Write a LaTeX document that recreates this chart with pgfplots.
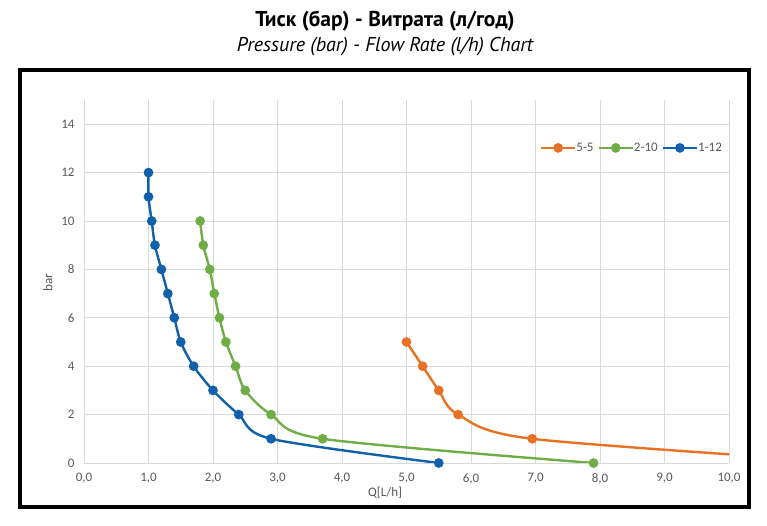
\documentclass[border=0pt]{standalone}
\usepackage{fontspec}
\setmainfont{Carlito}
\newfontfamily\titlefont{PT Sans}
\usepackage{pgfplots}
\pgfplotsset{compat=1.18}
\definecolor{corange}{RGB}{232,114,35}
\definecolor{cgreen}{RGB}{112,173,71}
\definecolor{cblue}{RGB}{16,96,170}
\definecolor{cgrid}{RGB}{217,217,217}
\definecolor{ctext}{RGB}{89,89,89}
\begin{document}
\begin{tikzpicture}
\path[use as bounding box] (-84pt,-63pt) rectangle (683pt,463pt);
\fill[white] (-84pt,-63pt) rectangle (683pt,463pt);
\begin{axis}[
  at={(0pt,0pt)}, anchor=south west,
  scale only axis, width=645pt, height=363pt,
  xmin=0, xmax=10, ymin=0, ymax=15,
  xtick={0,1,...,10}, ytick={0,2,...,14},
  axis x line=bottom, axis y line=left,
  axis line style={cgrid, line width=0.8pt, -},
  major tick length=0pt,
  grid=major, grid style={cgrid, line width=0.8pt},
  /pgf/number format/assume math mode=true,
  xticklabel style={/pgf/number format/fixed, /pgf/number format/fixed zerofill, /pgf/number format/precision=1, /pgf/number format/use comma, yshift=-7pt},
  tick label style={font=\fontsize{13}{15}\selectfont, text=ctext},
  yticklabel style={xshift=-6pt},
  xlabel={Q[L/h]}, ylabel={bar},
  label style={font=\fontsize{13}{15}\selectfont, text=ctext},
  xlabel style={at={(axis description cs:0.467,-0.083)}, anchor=center},
  ylabel style={at={(axis description cs:-0.056,0.496)}, anchor=center},
  every axis plot/.append style={line width=2.4pt, smooth, tension=0.5, mark=*, mark size=3.6pt},
  legend columns=3,
  legend style={at={(0.997,0.868)}, anchor=east, draw=none, fill=none,
    font=\fontsize{13}{15}\selectfont, text=ctext,
    /tikz/every even column/.append style={column sep=2pt},
    /tikz/every odd column/.append style={column sep=-2pt}},
  legend image code/.code={\draw[mark repeat=2,mark phase=2] plot coordinates {(0pt,0pt)(17pt,0pt)(34pt,0pt)};},
  clip=true,
]
\addplot[corange, mark options={fill=corange, draw=corange}] coordinates {
 (5.0,5) (5.25,4) (5.5,3) (5.8,2) (6.95,1) (12.0,0)};
\addlegendentry{5-5}
\addplot[cgreen, mark options={fill=cgreen, draw=cgreen}] coordinates {
 (1.8,10) (1.85,9) (1.95,8) (2.02,7) (2.1,6) (2.2,5) (2.35,4) (2.5,3) (2.9,2) (3.7,1) (7.9,0)};
\addlegendentry{2-10}
\addplot[cblue, mark options={fill=cblue, draw=cblue}] coordinates {
 (1.0,12) (1.0,11) (1.05,10) (1.1,9) (1.2,8) (1.3,7) (1.4,6) (1.5,5) (1.7,4) (2.0,3) (2.4,2) (2.9,1) (5.5,0)};
\addlegendentry{1-12}
\end{axis}
\draw[black, line width=4pt] (-64pt,-44pt) rectangle (665pt,393pt);
\node[font=\titlefont\bfseries\fontsize{21.5}{24}\selectfont] at (301pt,442pt) {Тиск (бар) - Витрата (л/год)};
\node[font=\titlefont\itshape\fontsize{20}{22}\selectfont] at (301pt,416pt) {Pressure (bar) - Flow Rate (l/h) Chart};
\end{tikzpicture}
\end{document}
